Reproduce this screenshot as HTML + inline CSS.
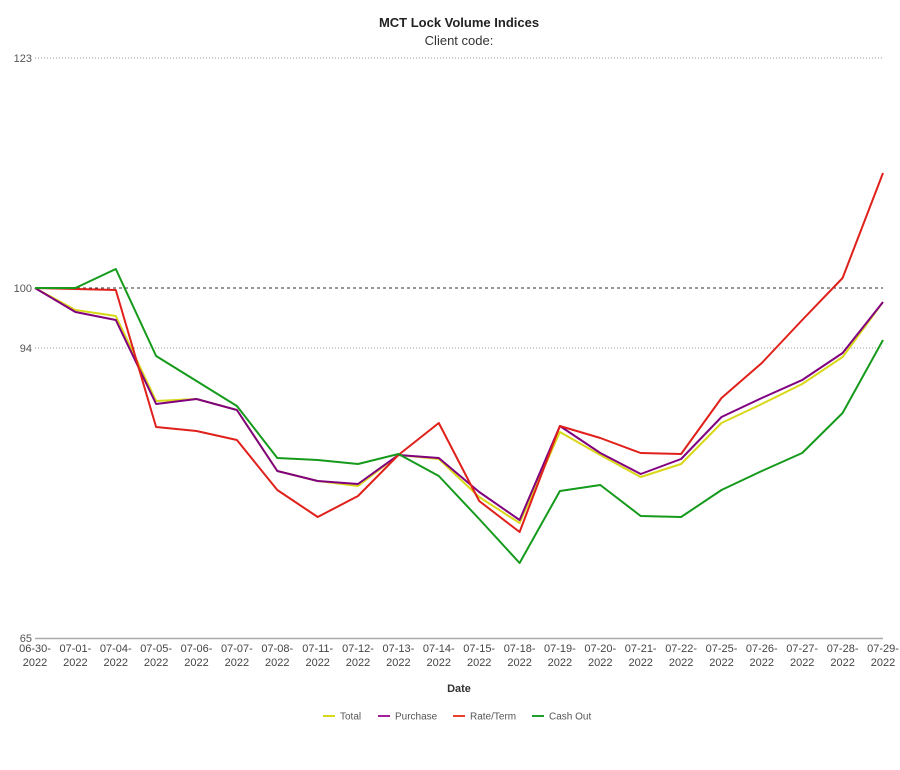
<!DOCTYPE html>
<html><head><meta charset="utf-8"><style>
body{margin:0;background:#fff;}
svg text{font-family:"Liberation Sans",Arial,sans-serif;}
</style></head><body>
<svg width="900" height="765" viewBox="0 0 900 765" xmlns="http://www.w3.org/2000/svg">
<text x="459" y="27" font-size="13" font-weight="bold" text-anchor="middle" fill="#222">MCT Lock Volume Indices</text>
<text x="459" y="45" font-size="13" text-anchor="middle" fill="#333">Client code:</text>
<g font-size="11" fill="#555" text-anchor="end">
<text x="32" y="62">123</text>
<text x="32" y="292">100</text>
<text x="32" y="352">94</text>
<text x="32" y="642">65</text>
</g>
<line x1="35" y1="58" x2="883" y2="58" stroke="#999" stroke-dasharray="1,2"/>
<line x1="35" y1="348" x2="883" y2="348" stroke="#999" stroke-dasharray="1,2"/>
<line x1="35" y1="288" x2="883" y2="288" stroke="#333" stroke-dasharray="3,3"/>
<line x1="35" y1="638.5" x2="883" y2="638.5" stroke="#aaa" stroke-width="1.5"/>
<g fill="none" stroke-width="2" stroke-linejoin="round">
<polyline stroke="#d8d818" points="35,288 75.4,310 115.8,316 156.1,401 196.5,399 236.9,410 277.3,471 317.7,481 358,486 398.4,455 438.8,459 479.2,497 519.6,523 559.9,432 600.3,455 640.7,477 681.1,464 721.5,423 761.8,404 802.2,384 842.6,357 883,302"/>
<polyline stroke="#800080" points="35,288 75.4,312 115.8,320 156.1,404 196.5,399 236.9,410 277.3,471 317.7,481 358,484 398.4,455 438.8,458 479.2,492 519.6,520 559.9,426 600.3,453 640.7,474 681.1,459 721.5,417 761.8,398 802.2,380 842.6,353 883,302"/>
<polyline stroke="#e0201a" points="35,288 75.4,289 115.8,290 156.1,427 196.5,431 236.9,440 277.3,490 317.7,517 358,496 398.4,455 438.8,423 479.2,501 519.6,532 559.9,426 600.3,438 640.7,453 681.1,454 721.5,398 761.8,363 802.2,320 842.6,278 883,173"/>
<polyline stroke="#159a1c" points="35,288 75.4,288 115.8,269 156.1,356 196.5,381 236.9,406 277.3,458 317.7,460 358,464 398.4,454 438.8,476 479.2,519 519.6,563 559.9,491 600.3,485 640.7,516 681.1,517 721.5,490 761.8,471 802.2,453 842.6,413 883,340"/>
</g>
<g font-size="11" fill="#444" text-anchor="middle">
<text x="35" y="652">06-30-</text><text x="35" y="666">2022</text>
<text x="75.4" y="652">07-01-</text><text x="75.4" y="666">2022</text>
<text x="115.8" y="652">07-04-</text><text x="115.8" y="666">2022</text>
<text x="156.1" y="652">07-05-</text><text x="156.1" y="666">2022</text>
<text x="196.5" y="652">07-06-</text><text x="196.5" y="666">2022</text>
<text x="236.9" y="652">07-07-</text><text x="236.9" y="666">2022</text>
<text x="277.3" y="652">07-08-</text><text x="277.3" y="666">2022</text>
<text x="317.7" y="652">07-11-</text><text x="317.7" y="666">2022</text>
<text x="358" y="652">07-12-</text><text x="358" y="666">2022</text>
<text x="398.4" y="652">07-13-</text><text x="398.4" y="666">2022</text>
<text x="438.8" y="652">07-14-</text><text x="438.8" y="666">2022</text>
<text x="479.2" y="652">07-15-</text><text x="479.2" y="666">2022</text>
<text x="519.6" y="652">07-18-</text><text x="519.6" y="666">2022</text>
<text x="559.9" y="652">07-19-</text><text x="559.9" y="666">2022</text>
<text x="600.3" y="652">07-20-</text><text x="600.3" y="666">2022</text>
<text x="640.7" y="652">07-21-</text><text x="640.7" y="666">2022</text>
<text x="681.1" y="652">07-22-</text><text x="681.1" y="666">2022</text>
<text x="721.5" y="652">07-25-</text><text x="721.5" y="666">2022</text>
<text x="761.8" y="652">07-26-</text><text x="761.8" y="666">2022</text>
<text x="802.2" y="652">07-27-</text><text x="802.2" y="666">2022</text>
<text x="842.6" y="652">07-28-</text><text x="842.6" y="666">2022</text>
<text x="883" y="652">07-29-</text><text x="883" y="666">2022</text>
</g>
<text x="459" y="692" font-size="11" font-weight="bold" text-anchor="middle" fill="#333">Date</text>
<g font-size="10" fill="#555">
<line x1="323" y1="716" x2="335" y2="716" stroke="#d8d818" stroke-width="2"/><text x="340" y="719.5">Total</text>
<line x1="378" y1="716" x2="390" y2="716" stroke="#a020a0" stroke-width="2"/><text x="395" y="719.5">Purchase</text>
<line x1="453" y1="716" x2="465" y2="716" stroke="#e84030" stroke-width="2"/><text x="470" y="719.5">Rate/Term</text>
<line x1="532" y1="716" x2="544" y2="716" stroke="#20a030" stroke-width="2"/><text x="549" y="719.5">Cash Out</text>
</g>
</svg>
</body></html>
